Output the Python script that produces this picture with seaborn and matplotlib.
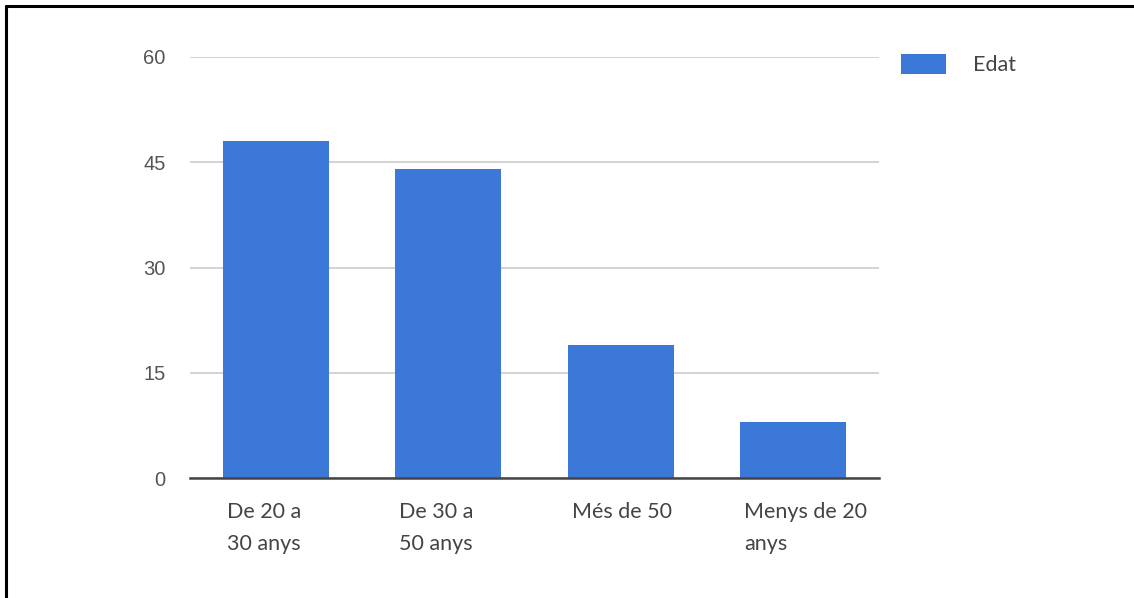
import matplotlib
matplotlib.use("Agg")
import matplotlib.pyplot as plt
import matplotlib.transforms as mtransforms
from matplotlib.lines import Line2D
from matplotlib.patches import Patch
import seaborn as sns
import pandas as pd

# Data
categories = ["De 20 a\n30 anys", "De 30 a\n50 anys", "Més de 50", "Menys de 20\nanys"]
values = [48, 44, 19, 8]
series_name = "Edat"
y_ticks = [0, 15, 30, 45, 60]

BAR_COLOR = "#3c78d8"
GRID_COLOR = "#cccccc"
AXIS_COLOR = "#444444"
TEXT_COLOR = "#444444"
LABEL_FONT = ["Lato", "DejaVu Sans"]
TICK_FONT = ["Liberation Sans", "DejaVu Sans"]

sns.set_theme(style="white")

W, H, DPI = 1134, 598, 100
fig = plt.figure(figsize=(W / DPI, H / DPI), dpi=DPI)
fig.patch.set_facecolor("white")

# plot area in pixels
x0, x1 = 190, 879
y_top, y_bot = 57, 478
ax = fig.add_axes([x0 / W, 1 - y_bot / H, (x1 - x0) / W, (y_bot - y_top) / H])

df = pd.DataFrame({"category": categories, "value": values})
bar_width = 0.615
sns.barplot(data=df, x="category", y="value", color=BAR_COLOR, saturation=1,
            width=bar_width, ax=ax, zorder=3, edgecolor="none")

ax.set_ylim(0, 60)
ax.set_xlim(-0.5, len(categories) - 0.5)
ax.set_yticks(y_ticks)
ax.set_yticklabels([str(t) for t in y_ticks], fontfamily=TICK_FONT, fontsize=14.5,
                   color="#555555")
ax.tick_params(axis="both", length=0)
ax.tick_params(axis="y", pad=17.5)
ax.tick_params(axis="x", pad=17)
ax.set_xlabel("")
ax.set_ylabel("")

ax.yaxis.grid(True, color=GRID_COLOR, linewidth=1.2, zorder=0)
ax.xaxis.grid(False)
for side in ["top", "right", "left"]:
    ax.spines[side].set_visible(False)
ax.spines["bottom"].set_color(AXIS_COLOR)
ax.spines["bottom"].set_linewidth(1.8)
ax.spines["bottom"].set_zorder(4)

# category labels start just inside the left edge of each bar
shift_px = bar_width / 2 * (x1 - x0) / len(categories) - 4
for lab in ax.get_xticklabels():
    lab.set_ha("left")
    lab.set_va("top")
    lab.set_fontfamily(LABEL_FONT)
    lab.set_fontsize(15.5)
    lab.set_color(TEXT_COLOR)
    lab.set_linespacing(1.8)
    lab.set_transform(lab.get_transform() + mtransforms.ScaledTranslation(
        -shift_px / DPI, 0, fig.dpi_scale_trans))

# legend
fs = 15.5
fs_px = fs * DPI / 72
ax.legend(handles=[Patch(facecolor=BAR_COLOR, edgecolor="none")], labels=[series_name],
          loc="upper left", bbox_to_anchor=(901 / W, 1 - 54 / H),
          bbox_transform=fig.transFigure, frameon=False,
          prop={"family": LABEL_FONT, "size": fs},
          handlelength=45 / fs_px, handleheight=22 / fs_px,
          handletextpad=27 / fs_px, borderpad=0, borderaxespad=0, labelcolor=TEXT_COLOR)

# frame lines along the top and left edges
fig.add_artist(Line2D([6 / W, 1], [1 - 6 / H, 1 - 6 / H], transform=fig.transFigure,
                      color="black", linewidth=2.2))
fig.add_artist(Line2D([6 / W, 6 / W], [0, 1 - 6 / H], transform=fig.transFigure,
                      color="black", linewidth=2.2))

fig.savefig("out.png", dpi=DPI, facecolor="white")
